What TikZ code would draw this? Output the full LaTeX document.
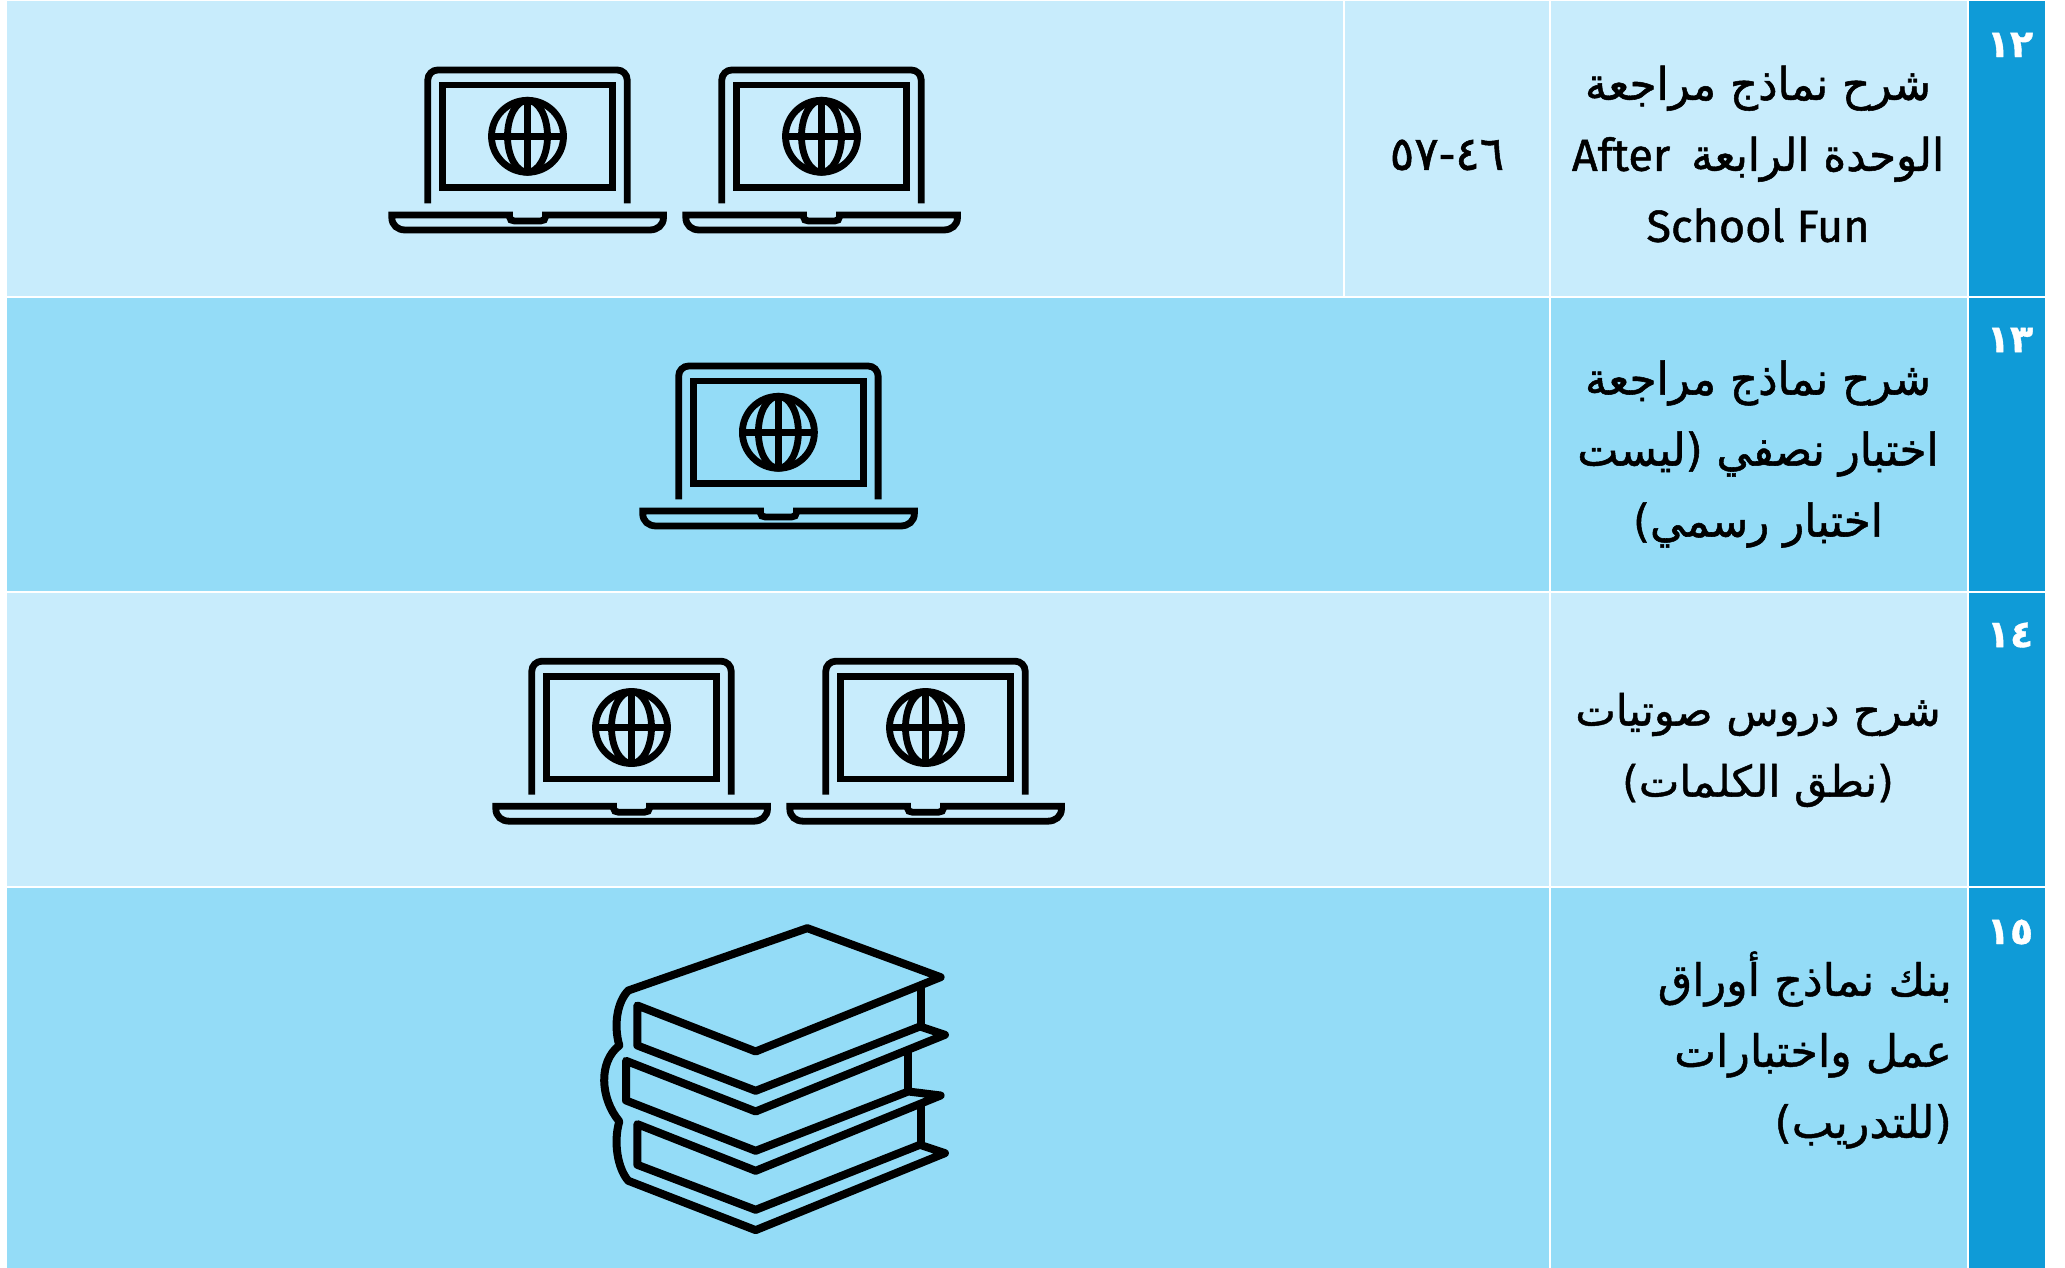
\documentclass[tikz,border=0pt]{standalone}
\usepackage{fontspec}
\TeXXeTstate=1
\newfontfamily\arabicfont[Script=Arabic,FakeBold=1.0]{DejaVu Sans}
\newfontfamily\narrowar[Script=Arabic,FakeStretch=0.97,FakeBold=1.2]{DejaVu Sans}
\newfontfamily\latinfont[FakeBold=1.1]{Fira Sans}
\definecolor{rowlight}{HTML}{C8ECFC}
\definecolor{rowdark}{HTML}{94DCF7}
\definecolor{numcol}{HTML}{0F9BD7}
\newcommand{\Ar}[1]{\beginR #1\endR}
\newcommand{\Lt}[1]{\beginL{\latinfont #1}\endL}
\tikzset{
  x=1pt,y=-1pt,
  icon/.style={draw=black,line width=6.8pt,fill=none},
  bookline/.style={draw=black,line width=8pt,line join=round,line cap=round,fill=none},
  sep/.style={draw=white,line width=2pt},
  thinsep/.style={draw=white,line width=1.2pt},
  lesson/.style={align=center,inner sep=0pt,text=black,font=\fontsize{45}{71}\selectfont\narrowar},
  lessonw/.style={align=center,inner sep=0pt,text=black,font=\fontsize{43}{71}\selectfont\arabicfont},
  lessonr/.style={align=right,inner sep=0pt,anchor=east,text=black,font=\fontsize{44.5}{71}\selectfont\arabicfont},
  pagenum/.style={inner sep=0pt,text=black,font=\fontsize{47}{47}\selectfont\narrowar},
  rownum/.style={inner sep=0pt,text=white,font=\fontsize{38}{38}\selectfont\bfseries\arabicfont},
  laptop/.pic={
    % lid
    \draw[icon,rounded corners=10pt] (-99.7,67) -- (-99.7,-66.3) -- (99.7,-66.3) -- (99.7,67);
    % screen
    \draw[icon,miter limit=10] (-84.7,-51.3) rectangle (84.7,51.4);
    % globe
    \draw[icon] (0,0) circle (36);
    \draw[icon] (0,0) ellipse (20 and 36);
    \draw[icon] (0,-36) -- (0,36);
    \draw[icon] (-36,0) -- (36,0);
    % base
    \draw[icon,line join=miter] (-135.7,78.7) -- (-18,78.7) -- (-18,80.7) .. controls (-18,83.2) and (-16,84.7) .. (-13,84.7) -- (13,84.7) .. controls (16,84.7) and (18,83.2) .. (18,80.7) -- (18,78.7) -- (136,78.7)
      -- (136,81) .. controls (136,89) and (130,93.7) .. (122,93.7) -- (-122,93.7) .. controls (-130,93.7) and (-135.7,89) .. (-135.7,81) -- cycle;
  }
}
\begin{document}
\begin{tikzpicture}
\useasboundingbox (0,0) rectangle (2065,1268);
\fill[white] (0,0) rectangle (2065,1268);
% rows
\fill[rowlight] (7,1) rectangle (1968,297);
\fill[rowdark] (7,297) rectangle (1968,592);
\fill[rowlight] (7,592) rectangle (1968,887);
\fill[rowdark] (7,887) rectangle (1968,1268);
\fill[numcol] (1968,1) rectangle (2045,1268);
% grid
\draw[thinsep] (1344,1) -- (1344,297);
\draw[sep] (1550,1) -- (1550,1268);
\draw[sep] (1968,1) -- (1968,1268);
\draw[sep] (7,297) -- (2045,297);
\draw[sep] (7,592) -- (2045,592);
\draw[sep] (7,887) -- (2045,887);
% numbers
\node[rownum] (n12) at (2010,45) {\Ar{١٢}};
\node[rownum] (n13) at (2010,340) {\Ar{١٣}};
\node[rownum] (n14) at (2010,635) {\Ar{١٤}};
\node[rownum] (n15) at (2010,932) {\Ar{١٥}};
% lessons
\node[lesson] (t12) at (1758,154) {\Ar{شرح نماذج مراجعة}\\\Ar{الوحدة الرابعة\hspace{21pt}\Lt{After}}\\{\latinfont School Fun}};
\node[lesson] (t13) at (1758,454) {\Ar{شرح نماذج مراجعة}\\\Ar{اختبار نصفي (ليست}\\\Ar{اختبار رسمي)}};
\node[lessonw] (t14) at (1758,750) {\Ar{شرح دروس صوتيات}\\\Ar{(نطق الكلمات)}};
\node[lessonr] (t15) at (1952,1050) {\Ar{بنك نماذج أوراق}\\\Ar{عمل واختبارات}\\\Ar{(للتدريب)}};
\node[pagenum] (p12) at (1447,155) {\Ar{\beginL ٤٦\endL-\beginL ٥٧\endL}};
% laptops
\pic at (527.5,136.3) {laptop};
\pic at (821.5,136.3) {laptop};
\pic at (778.4,432.3) {laptop};
\pic at (631.5,727.5) {laptop};
\pic at (925.5,727.5) {laptop};
% books
\begin{scope}[shift={(580,901.5)},x=0.3333pt,y=-0.3333pt]
\draw[bookline] (1082,227) -- (682,80) -- (145,267) .. controls (112,300) and (100,370) .. (118,432)
  .. controls (55,480) and (60,590) .. (118,660) .. controls (100,720) and (112,800) .. (145,838)
  -- (527,986) -- (1095,755) -- (1020,730) -- (527,925) -- (172,790) -- (172,668) -- (527,808)
  -- (1082,582) -- (985,570) -- (527,748) -- (138,597) -- (138,478) -- (527,630) -- (1095,400)
  -- (1020,375) -- (527,568) -- (172,432) -- (172,312) -- (527,450) -- cycle;
\draw[bookline] (1022,258) -- (1022,370);
\draw[bookline] (985,450) -- (985,565);
\draw[bookline] (1022,612) -- (1022,725);
\end{scope}
\end{tikzpicture}
\end{document}
